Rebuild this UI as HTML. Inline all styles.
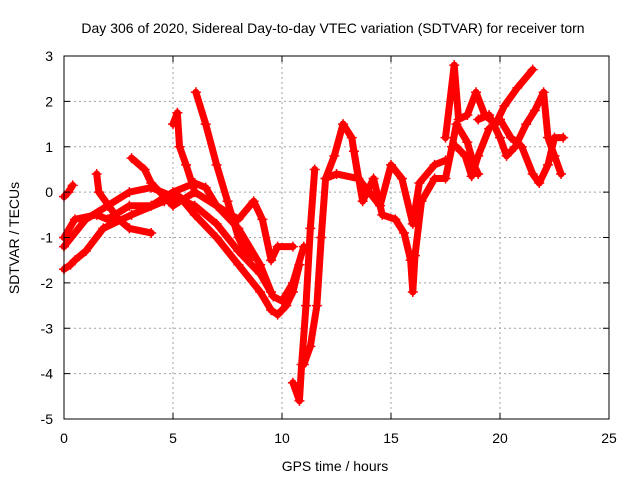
<!DOCTYPE html>
<html><head><meta charset="utf-8"><style>
body{margin:0;background:#fff}
svg text{font-family:"Liberation Sans",sans-serif;font-size:14px;fill:#000}
</style></head><body>
<svg id="chart" width="640" height="480" xmlns="http://www.w3.org/2000/svg">
<text x="333" y="33" text-anchor="middle">Day 306 of 2020, Sidereal Day-to-day VTEC variation (SDTVAR) for receiver torn</text>
<g id="grid"></g>
<g id="series"></g>
<rect x="64" y="56" width="545" height="363" fill="none" stroke="#000" stroke-width="1"/>
<g id="axes"></g>
<text x="335" y="471" text-anchor="middle">GPS time / hours</text>
<text transform="translate(19,238) rotate(-90)" text-anchor="middle">SDTVAR / TECUs</text>
</svg>
<script>
const xTicks=[0,5,10,15,20,25];
const yTicks=[-5,-4,-3,-2,-1,0,1,2,3];
const trackA=[[0,-1.7],[0.3,-1.6],[0.5,-1.5],[1,-1.3],[1.8,-0.8],[3.1,-0.5],[4.6,-0.2],[5.3,-0.1],[6,-0.5],[7,-1.0],[8,-1.6],[9,-2.2],[9.5,-2.6],[9.8,-2.7],[10.2,-2.5],[10.5,-2.2],[10.8,-1.6]];
const trackB=[[0,-1.2],[1,-0.6],[2,-0.3],[3,0],[4,0.1],[5,-0.1],[6,-0.3],[7,-0.7],[8,-1.3],[9,-1.8],[9.6,-2.3],[10,-2.4],[10.5,-2.0],[11,-1.2]];
const trackC=[[0,-0.1],[0.2,0.0],[0.4,0.15]];
const trackD=[[0,-1.0],[0.5,-0.6],[1.5,-0.5],[2,-0.6],[3,-0.3],[4,-0.3],[5,0],[6,0.2],[6.5,0.1],[7,-0.3],[8,-0.6],[8.7,-0.2],[9.1,-0.6],[9.5,-1.5],[9.8,-1.2],[10.5,-1.2]];
const trackE=[[3.1,0.75],[3.7,0.5],[4,0.2],[5,-0.3],[6,0],[7,-0.3],[8,-0.8],[9,-1.6],[9.5,-2.2]];
const trackF=[[1.5,0.4],[1.6,0.0],[2.5,-0.6],[3,-0.8],[4,-0.9]];
const trackG=[[5,1.5],[5.2,1.75],[5.3,1.0],[5.6,0.6],[6,0]];
const trackH=[[6.05,2.2],[6.5,1.5],[7,0.6],[7.5,-0.2],[8,-1.0],[8.5,-1.5]];
const trackI1=[[10.5,-4.2],[10.8,-4.6],[10.9,-3.8],[11.1,-2.5],[11.3,-0.8],[11.5,0.5]];
const trackI2=[[11,-3.8],[11.3,-3.4],[11.6,-2.5],[11.8,-1.0],[12,0.3],[12.4,0.8],[12.8,1.5],[13.2,1.2],[13.5,0.3]];
const trackJ=[[12,0.3],[12.5,0.4],[13.5,0.3],[14,0],[14.5,-0.3],[15,0.6],[15.5,0.3],[16,-0.7],[16.3,0.2],[17,0.6],[17.5,0.7]];
const trackK=[[13.3,0.9],[13.7,-0.2],[14.2,0.3],[14.6,-0.5],[15.2,-0.6],[15.6,-0.9],[15.9,-1.5],[16,-2.2],[16.1,-1.4],[16.4,-0.2],[17,0.3],[17.5,0.3],[17.8,1.0],[18,1.5],[18.5,1.1],[18.8,0.6],[19,0.4]];
const trackL=[[17.5,1.2],[17.9,2.8],[18.1,1.6],[18.5,1.7],[18.9,2.2],[19.3,1.7],[19.8,1.5],[20.2,1.9],[20.8,2.3],[21.5,2.7]];
const trackM=[[18,1.0],[18.4,0.8],[18.7,0.35],[19,0.8],[19.5,1.4]];
const trackN=[[19,1.6],[19.5,1.7],[20,1.2],[20.3,0.8],[20.7,1.0],[21.2,1.5],[21.6,1.8],[22,2.2],[22.2,1.2],[22.5,0.8],[22.8,0.4]];
const trackO=[[20,1.6],[20.5,1.2],[21,1.0],[21.5,0.4],[21.8,0.2],[22.2,0.6],[22.5,1.2],[22.9,1.2]];
const tracks=[trackA,trackB,trackC,trackD,trackE,trackF,trackG,trackH,trackI1,trackI2,trackJ,trackK,trackL,trackM,trackN,trackO];
const NS="http://www.w3.org/2000/svg";
const X0=64,X1=609,Y0=419,Y1=56;
function sx(t){return X0+(t-0)/(25-0)*(X1-X0);}
function sy(v){return Y0-(v+5)/(3+5)*(Y0-Y1);}
const grid=document.getElementById('grid'),axes=document.getElementById('axes'),ser=document.getElementById('series');
function mk(tag,attrs,parent){const e=document.createElementNS(NS,tag);for(const k in attrs)e.setAttribute(k,attrs[k]);parent.appendChild(e);return e;}
xTicks.forEach(t=>{
  if(t>0&&t<25){const g=mk('line',{x1:sx(t),x2:sx(t),y1:Y0,y2:Y1,stroke:'#a0a0a0','stroke-dasharray':'2,3'},grid);
  
  }
  mk('line',{x1:sx(t),x2:sx(t),y1:Y0,y2:Y0-6,stroke:'#000'},axes);
  mk('line',{x1:sx(t),x2:sx(t),y1:Y1,y2:Y1+6,stroke:'#000'},axes);
  const l=mk('text',{x:sx(t),y:443,'text-anchor':'middle'},axes);l.textContent=t;
  
  
});
yTicks.forEach(v=>{
  if(v>-5&&v<3){const g=mk('line',{x1:X0,x2:X1,y1:sy(v),y2:sy(v),stroke:'#a0a0a0','stroke-dasharray':'2,3'},grid);
  
  }
  mk('line',{x1:X0,x2:X0+6,y1:sy(v),y2:sy(v),stroke:'#000'},axes);
  mk('line',{x1:X1,x2:X1-6,y1:sy(v),y2:sy(v),stroke:'#000'},axes);
  const l=mk('text',{x:53,y:sy(v)+5,'text-anchor':'end'},axes);l.textContent=v;
  
  
});
tracks.forEach((tr,i)=>{
  const p=mk('polyline',{points:tr.map(d=>sx(d[0])+','+sy(d[1])).join(' '),fill:'none',stroke:'#ff0000','stroke-width':7,'stroke-linejoin':'round','stroke-linecap':'round'},ser);
  
  
  tr.forEach(d=>{
    const m=mk('path',{d:`M${sx(d[0])-5},${sy(d[1])}h10M${sx(d[0])},${sy(d[1])-5}v10`,stroke:'#ff0000','stroke-width':1.5},ser);
    
    
  });
});
</script>
</body></html>
